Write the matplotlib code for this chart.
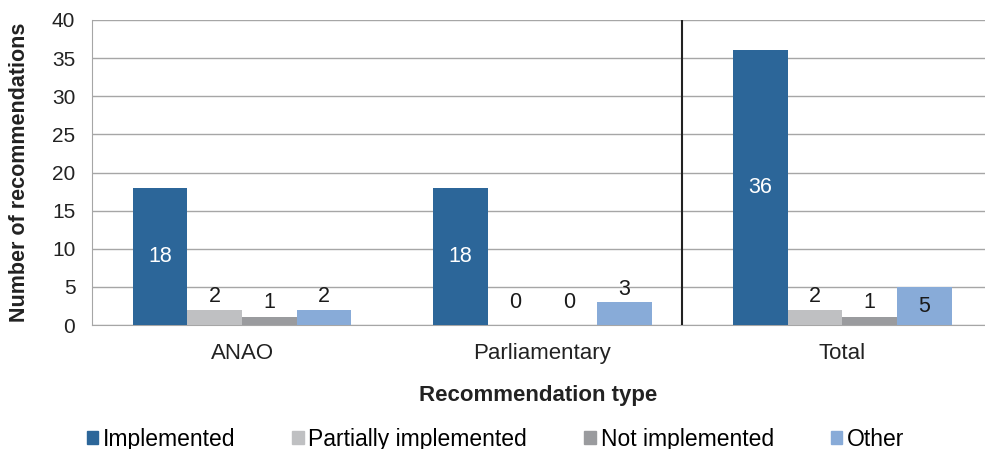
import numpy as np
import matplotlib.pyplot as plt
from matplotlib.patches import Patch

plt.rcParams['font.family'] = ['Liberation Sans', 'DejaVu Sans']

# Datos
categorias = ["ANAO", "Parliamentary", "Total"]
series = ["Implemented", "Partially implemented", "Not implemented", "Other"]
implemented = [18, 18, 36]
partially = [2, 0, 2]
not_impl = [1, 0, 1]
other = [2, 3, 5]
colores = ["#2C6699", "#BFC0C2", "#9A9B9E", "#88ABD8"]

valores = [implemented, partially, not_impl, other]

fig = plt.figure(figsize=(9.85, 4.49), dpi=100)
ax = fig.add_axes([0.0934, 0.276, 0.9066, 0.6795])

x = np.arange(len(categorias))
ancho = 0.182
desplaz = (np.arange(len(series)) - 1.5) * ancho

for i, (nombre, vals, col) in enumerate(zip(series, valores, colores)):
    ax.bar(x + desplaz[i], vals, ancho, color=col, label=nombre, zorder=3)
    for xb, v in zip(x + desplaz[i], vals):
        if v >= 4:
            # etiqueta dentro de la barra
            ax.text(xb, v / 2, str(v), ha='center', va='center', fontsize=15.5,
                    color='white' if i == 0 else '#1a1a1a', zorder=4)
        else:
            ax.text(xb, max(v, 1.2) + 1.7, str(v), ha='center', va='center',
                    fontsize=15.5, color='#1a1a1a', zorder=4)

# Separador entre los tipos y el total
ax.axvline(1.465, ymin=0, ymax=1, color='#222222', lw=1.5, zorder=4)

ax.set_xlim(-0.5, 2.475)
ax.set_ylim(0, 40)
ax.set_yticks(range(0, 41, 5))
ax.set_xticks(x)
ax.set_xticklabels(categorias, fontsize=16, color='#222222')
ax.tick_params(axis='y', length=0, pad=12, labelsize=15, labelcolor='#222222')
ax.tick_params(axis='x', length=0, pad=13)
ax.grid(axis='y', color='#a6a6a6', lw=1, zorder=0)
for lado in ['top', 'right']:
    ax.spines[lado].set_visible(False)
ax.spines['left'].set_color('#a6a6a6')
ax.spines['bottom'].set_color('#a6a6a6')

ax.set_ylabel("Number of recommendations", fontsize=15.5, fontweight='bold',
              color='#222222', labelpad=16)
ax.set_xlabel("Recommendation type", fontsize=16, fontweight='bold',
              color='#222222', labelpad=15)

# Leyenda
handles = [Patch(color=c, label=s) for s, c in zip(series, colores)]
fig.legend(handles=handles, loc='center', bbox_to_anchor=(0.503, 0.022), ncol=4,
           frameon=False, fontsize=16.5, handlelength=0.5, handleheight=0.5,
           handletextpad=0.2, columnspacing=2.5, borderaxespad=0)

plt.savefig("out.png", dpi=100)
